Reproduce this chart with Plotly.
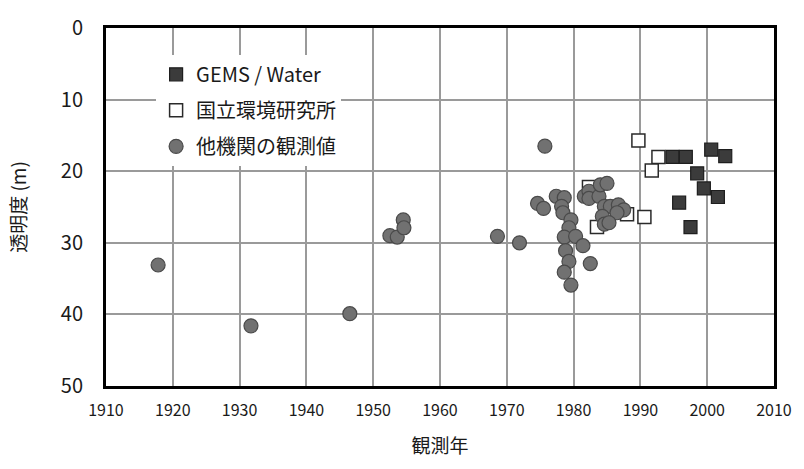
import plotly.graph_objects as go

# GEMS/Water monitoring
gems_year = [1994.8, 1996.8, 1998.5, 1999.5, 2000.6, 2001.6, 2002.7, 1995.8, 1997.5]
gems_depth = [18.0, 18.0, 20.3, 22.4, 17.0, 23.6, 17.9, 24.4, 27.8]

# National Institute for Environmental Studies
nies_year = [1989.7, 1992.7, 1991.7, 1990.6, 1983.5, 1988.0, 1982.3]
nies_depth = [15.7, 18.0, 19.9, 26.4, 27.8, 26.0, 22.2]

# Other institutions
other_year = [1917.8, 1931.7, 1946.5, 1952.5, 1953.6, 1954.5, 1954.6, 1968.6, 1971.9,
              1975.7, 1974.6, 1975.5, 1977.4, 1978.6, 1978.2, 1978.4, 1979.6, 1979.3,
              1978.6, 1980.3, 1981.4, 1978.8, 1979.3, 1978.6, 1979.6, 1982.5, 1981.6,
              1982.3, 1982.3, 1983.8, 1984.0, 1985.0, 1984.6, 1985.5, 1986.7, 1987.5,
              1986.5, 1984.3, 1984.6, 1985.3]
other_depth = [33.1, 41.6, 39.9, 29.0, 29.2, 26.8, 27.9, 29.1, 30.0,
               16.5, 24.5, 25.2, 23.5, 23.7, 24.9, 25.8, 26.8, 27.9,
               29.2, 29.1, 30.4, 31.1, 32.6, 34.1, 35.9, 32.9, 23.5,
               22.8, 23.8, 23.5, 21.9, 21.7, 24.9, 24.9, 24.7, 25.4,
               25.8, 26.3, 27.4, 27.2]

x_ticks = list(range(1910, 2011, 10))
y_ticks = list(range(0, 51, 10))

FONT = "Noto Sans CJK JP"
INK = "#1a1a1a"

fig = go.Figure()
fig.add_trace(go.Scatter(
    x=gems_year, y=gems_depth, mode="markers", name="GEMS / Water",
    legendgroup="a",
    marker=dict(symbol="square", size=13, color="#3b3b3b",
                line=dict(color="#1e1e1e", width=1.2)),
))
fig.add_trace(go.Scatter(
    x=nies_year, y=nies_depth, mode="markers", name="国立環境研究所",
    legendgroup="b",
    marker=dict(symbol="square", size=13, color="white",
                line=dict(color="#2a2a2a", width=1.5)),
))
fig.add_trace(go.Scatter(
    x=other_year, y=other_depth, mode="markers", name="他機関の観測値",
    legendgroup="c",
    marker=dict(symbol="circle", size=14, color="#717171",
                line=dict(color="#4a4a4a", width=1.2)),
))

fig.update_layout(
    width=804, height=469,
    margin=dict(l=106, r=24, t=22, b=83),
    paper_bgcolor="white", plot_bgcolor="white",
    font=dict(family=FONT, color=INK),
    showlegend=True,
    legend=dict(
        x=0.075, y=0.925, xanchor="left", yanchor="top",
        bgcolor="white", borderwidth=0,
        font=dict(size=20, family=FONT, color=INK),
        tracegroupgap=7, traceorder="grouped",
        itemsizing="trace",
    ),
)
fig.update_xaxes(
    range=[1910, 2010], tickvals=x_ticks,
    showgrid=True, gridcolor="#9a9a9a", gridwidth=1.5,
    showline=True, linecolor="black", linewidth=3, mirror=True,
    ticks="", tickfont=dict(size=16, color=INK),
    ticklabelstandoff=8,
    title=dict(text="観測年", font=dict(size=19, color=INK), standoff=20),
    zeroline=False,
)
fig.update_yaxes(
    range=[50, 0], tickvals=y_ticks,
    showgrid=True, gridcolor="#9a9a9a", gridwidth=1.5,
    showline=True, linecolor="black", linewidth=3, mirror=True,
    ticks="", tickfont=dict(size=20, color=INK),
    ticklabelstandoff=16,
    title=dict(text="透明度 (m)", font=dict(size=19, color=INK), standoff=30),
    zeroline=False,
)

fig.write_html("out.html")
